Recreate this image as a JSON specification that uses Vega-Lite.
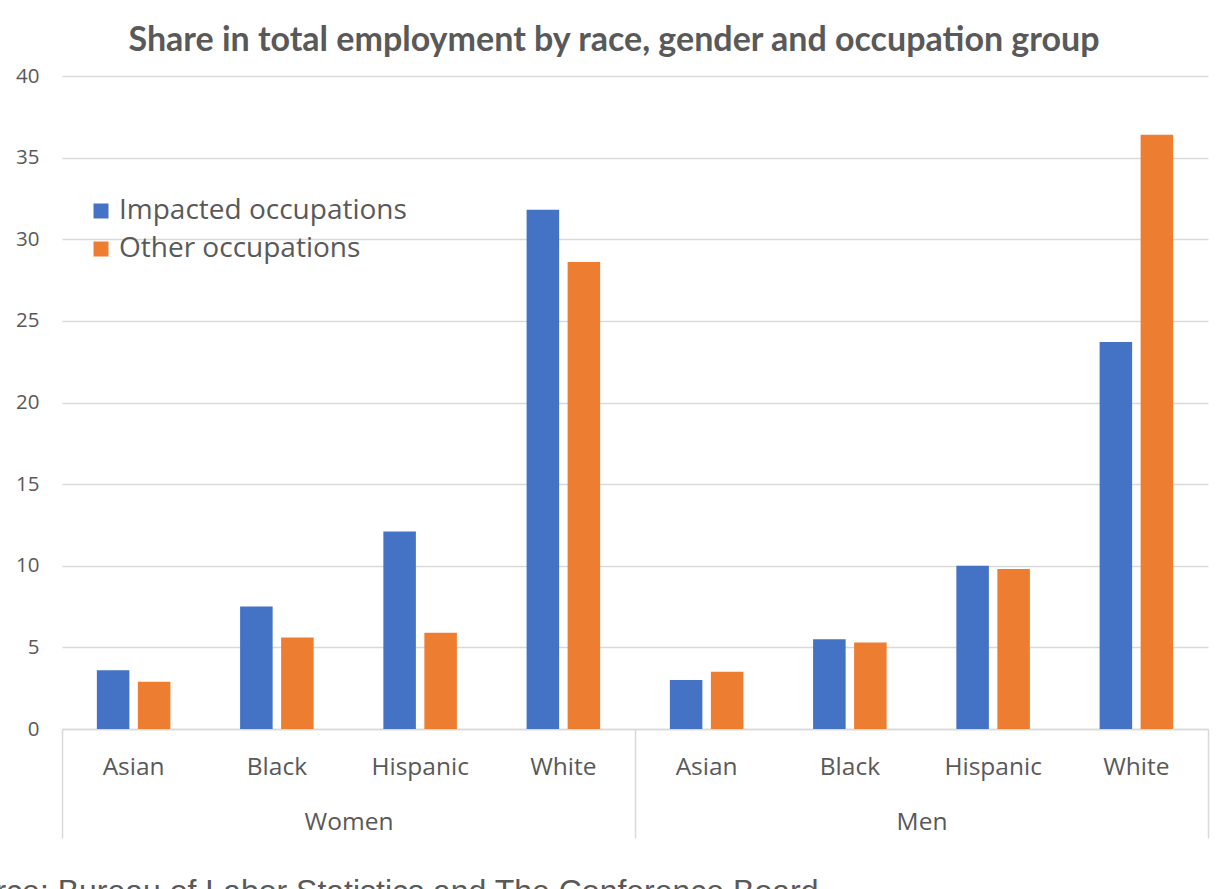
{
  "$schema": "https://vega.github.io/schema/vega-lite/v6.json",
  "width": 1146,
  "height": 653,
  "autosize": "none",
  "padding": {"left": 62, "top": 76, "right": 21, "bottom": 160},
  "background": "white",
  "title": {
    "text": "Share in total employment by race, gender and occupation group",
    "font": "Lato",
    "fontSize": 34,
    "fontWeight": "bold",
    "color": "#595959",
    "anchor": "middle",
    "dx": -21,
    "offset": 8
  },
  "data": {
    "values": [
      {"gender": "Women", "race": "Asian", "category": "Women|Asian", "series": "Impacted occupations", "value": 3.6},
      {"gender": "Women", "race": "Asian", "category": "Women|Asian", "series": "Other occupations", "value": 2.9},
      {"gender": "Women", "race": "Black", "category": "Women|Black", "series": "Impacted occupations", "value": 7.5},
      {"gender": "Women", "race": "Black", "category": "Women|Black", "series": "Other occupations", "value": 5.6},
      {"gender": "Women", "race": "Hispanic", "category": "Women|Hispanic", "series": "Impacted occupations", "value": 12.1},
      {"gender": "Women", "race": "Hispanic", "category": "Women|Hispanic", "series": "Other occupations", "value": 5.9},
      {"gender": "Women", "race": "White", "category": "Women|White", "series": "Impacted occupations", "value": 31.8},
      {"gender": "Women", "race": "White", "category": "Women|White", "series": "Other occupations", "value": 28.6},
      {"gender": "Men", "race": "Asian", "category": "Men|Asian", "series": "Impacted occupations", "value": 3.0},
      {"gender": "Men", "race": "Asian", "category": "Men|Asian", "series": "Other occupations", "value": 3.5},
      {"gender": "Men", "race": "Black", "category": "Men|Black", "series": "Impacted occupations", "value": 5.5},
      {"gender": "Men", "race": "Black", "category": "Men|Black", "series": "Other occupations", "value": 5.3},
      {"gender": "Men", "race": "Hispanic", "category": "Men|Hispanic", "series": "Impacted occupations", "value": 10.0},
      {"gender": "Men", "race": "Hispanic", "category": "Men|Hispanic", "series": "Other occupations", "value": 9.8},
      {"gender": "Men", "race": "White", "category": "Men|White", "series": "Impacted occupations", "value": 23.7},
      {"gender": "Men", "race": "White", "category": "Men|White", "series": "Other occupations", "value": 36.4}
    ]
  },
  "layer": [
    {
      "mark": {"type": "bar"},
      "encoding": {
        "x": {
          "field": "category",
          "type": "nominal",
          "sort": null,
          "scale": {"paddingInner": 0, "paddingOuter": 0},
          "axis": {
            "title": "Source: Bureau of Labor Statistics and The Conference Board",
            "labelExpr": "split(datum.label, '|')[1]",
            "labelFont": "Open Sans",
            "labelFontSize": 24.5,
            "labelColor": "#595959",
            "labelPadding": 26,
            "labelAngle": 0,
            "ticks": false,
            "tickSize": 0,
            "domainColor": "#d9d9d9",
            "domainWidth": 1.5,
            "grid": false,
            "titleFont": "Liberation Sans",
            "titleFontSize": 32,
            "titleFontWeight": "normal",
            "titleColor": "#595959",
            "titleX": -124,
            "titleY": 172,
            "titleAlign": "left",
            "titleAnchor": "start",
            "titleBaseline": "alphabetic"
          }
        },
        "xOffset": {
          "field": "series",
          "type": "nominal",
          "scale": {"paddingInner": 0.207, "paddingOuter": 0.85}
        },
        "y": {
          "field": "value",
          "type": "quantitative",
          "scale": {"domain": [0, 40], "nice": false},
          "axis": {
            "title": null,
            "values": [0, 5, 10, 15, 20, 25, 30, 35, 40],
            "labelFont": "Open Sans",
            "labelFontSize": 20.5,
            "labelColor": "#595959",
            "ticks": false,
            "tickSize": 0,
            "labelPadding": 23,
            "domain": false,
            "gridColor": "#d9d9d9",
            "gridWidth": 1.5
          }
        },
        "color": {
          "field": "series",
          "type": "nominal",
          "scale": {"range": ["#4472C4", "#ED7D31"]},
          "legend": {
            "title": null,
            "orient": "none",
            "legendX": 25,
            "legendY": 121,
            "symbolType": "square",
            "symbolSize": 225,
            "symbolStrokeWidth": 0,
            "labelFont": "Open Sans",
            "labelFontSize": 28,
            "labelColor": "#595959",
            "labelLimit": 0,
            "labelOffset": 4,
            "rowPadding": 10
          }
        }
      }
    },
    {
      "mark": {"type": "bar", "opacity": 0},
      "encoding": {
        "x": {
          "field": "gender",
          "type": "nominal",
          "sort": ["Women", "Men"],
          "scale": {"paddingInner": 0, "paddingOuter": 0},
          "axis": {
            "orient": "bottom",
            "title": null,
            "domain": false,
            "grid": false,
            "ticks": true,
            "tickBand": "extent",
            "tickSize": 109,
            "tickColor": "#d9d9d9",
            "tickWidth": 1.5,
            "labelFont": "Open Sans",
            "labelFontSize": 24.5,
            "labelColor": "#595959",
            "labelPadding": -28,
            "labelAngle": 0
          }
        }
      }
    }
  ],
  "resolve": {"scale": {"x": "independent"}, "axis": {"x": "independent"}},
  "config": {"view": {"stroke": null}}
}
